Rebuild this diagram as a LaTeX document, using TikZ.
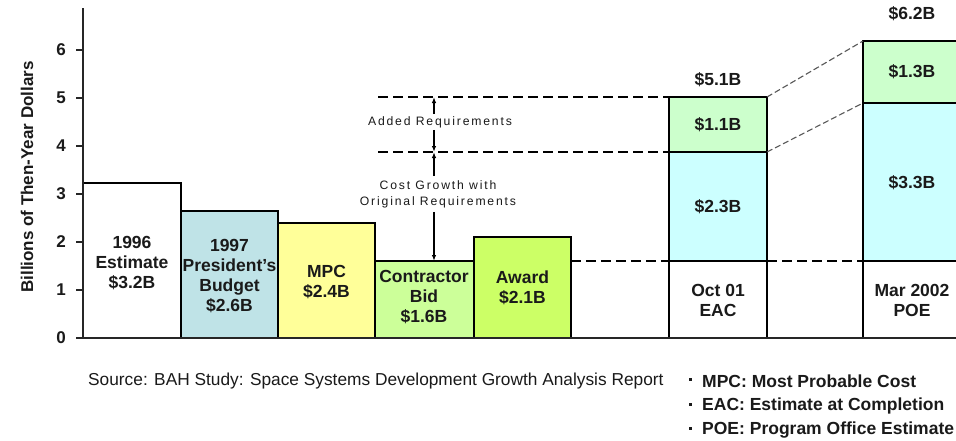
\documentclass[tikz,border=0pt]{standalone}
\usepackage{fontspec}
\setmainfont{Liberation Sans}
\newfontfamily\spacedfont[LetterSpace=15]{Liberation Sans}
\usetikzlibrary{arrows.meta}
\definecolor{cGray}{HTML}{BFE3E7}
\definecolor{cYel}{HTML}{FFFF99}
\definecolor{cBid}{HTML}{CCFF99}
\definecolor{cAward}{HTML}{CCFF66}
\definecolor{cGreen}{HTML}{CCFFCC}
\definecolor{cCyan}{HTML}{CCFFFF}
\definecolor{cText}{HTML}{1A1A1A}
\tikzset{
  barbox/.style={draw=black, line width=1.4pt, anchor=south west, inner sep=0pt, outer sep=0pt},
  lbl/.style={font=\fontsize{17.5}{20}\selectfont\bfseries, align=center, inner sep=0pt, text=cText},
  ticklbl/.style={font=\fontsize{17}{20}\selectfont\bfseries, inner sep=0pt, text=cText},
  small/.style={font=\spacedfont\fontsize{12.2}{16}\selectfont, align=center, inner sep=0pt, text=cText},
  lvl/.style={dash pattern=on 10pt off 5pt, line width=1.6pt},
  diag/.style={dash pattern=on 6pt off 3pt, line width=1.1pt, draw=black!65},
  arr/.style={-{Latex[length=6pt,width=4.5pt]}, line width=1.2pt},
  foot/.style={font=\fontsize{17.3}{20}\selectfont, inner sep=0pt, text=cText},
  bul/.style={font=\fontsize{17.5}{20}\selectfont\bfseries, inner sep=0pt, text=cText, anchor=west}
}
\begin{document}
\begin{tikzpicture}[x=1pt,y=-1pt]
\clip (0,0) rectangle (956,440);
\fill[white] (0,0) rectangle (956,440);

% bars
\node[barbox, fill=white, minimum width=98, minimum height=155] (b96) at (83,338) {};
\node[barbox, fill=cGray, minimum width=97, minimum height=127] (b97) at (181,338) {};
\node[barbox, fill=cYel, minimum width=97, minimum height=115] (mpc) at (278,338) {};
\node[barbox, fill=cBid, minimum width=99, minimum height=77] (bid) at (375,338) {};
\node[barbox, fill=cAward, minimum width=97, minimum height=101] (award) at (474,338) {};

\node[barbox, fill=white, minimum width=98, minimum height=77] (eacw) at (669,338) {};
\node[barbox, fill=cCyan, minimum width=98, minimum height=109] (eacb) at (669,261) {};
\node[barbox, fill=cGreen, minimum width=98, minimum height=55] (eacg) at (669,152) {};

\node[barbox, fill=white, minimum width=98, minimum height=77] (poew) at (863,338) {};
\node[barbox, fill=cCyan, minimum width=98, minimum height=158] (poeb) at (863,261) {};
\node[barbox, fill=cGreen, minimum width=98, minimum height=62] (poeg) at (863,103) {};

% axes
\draw[line width=1.8pt, draw=black!85] (83,8) coordinate (ytop) -- (83,338) coordinate (orig);
\draw[line width=1.8pt, draw=black!85] (76,338) -- (956,338) coordinate (xend);
\foreach \k in {0,...,6}{
  \draw[line width=1.4pt, draw=black!85] (76,338-48*\k) -- (83,338-48*\k);
  \node[ticklbl] (t\k) at (61,338-48*\k) {\k};
}
\node[font=\fontsize{17}{20}\selectfont\bfseries, text=cText, rotate=90, inner sep=0pt] (ytitle) at (27,177) {Billions of Then-Year Dollars};

% bar labels
\node[lbl] (l96) at (132,263) {1996\\Estimate\\\$3.2B};
\node[lbl] (l97) at (229.5,276.5) {1997\\President’s\\Budget\\\$2.6B};
\node[lbl] (lmpc) at (326.5,282) {MPC\\\$2.4B};
\node[lbl] (lbid) at (424,297.5) {Contractor\\Bid\\\$1.6B};
\node[lbl] (laward) at (522.5,287.5) {Award\\\$2.1B};
\node[lbl] (leac) at (718,300) {Oct 01\\EAC};
\node[lbl] (lpoe) at (912,300) {Mar 2002\\POE};
\node[lbl] (v51) at (718,80) {\$5.1B};
\node[lbl] (v11) at (718,125) {\$1.1B};
\node[lbl] (v23) at (718,207) {\$2.3B};
\node[lbl] (v62) at (912,14) {\$6.2B};
\node[lbl] (v13) at (912,72) {\$1.3B};
\node[lbl] (v33) at (912,183) {\$3.3B};

% level lines
\coordinate (s5) at (378,97);
\coordinate (s4) at (378,152);
\coordinate (a5) at (434,97);
\coordinate (a4) at (434,152);
\coordinate (a16) at (434,261);
\draw[lvl] (s5) -- (eacg.north west);
\draw[lvl] (s4) -- (eacg.south west);
\draw[lvl] (award.north east |- bid.north) -- (eacb.south west);
\draw[lvl] (eacb.south east) -- (poeb.south west);
\draw[diag] (eacg.north east) -- (poeg.north west);
\draw[diag] (eacg.south east) -- (poeg.south west);

% annotations
\node[small] (added) at (440,122) {Added Requirements};
\node[small] (growth) at (438,194) {Cost Growth with\\Original Requirements};
\draw[arr] (added.north -| a5) ++(0,-2) -- (a5);
\draw[arr] (added.south -| a4) ++(0,2) -- (a4);
\draw[arr] (growth.north -| a4) ++(0,-4) -- (a4);
\draw[arr] (growth.south -| a16) ++(0,4) -- (a16);

% footer
\node[foot, anchor=west] (src) at (88,381) {Source: BAH Study: Space Systems Development Growth Analysis Report};
\node[bul] (n1) at (702,381) {MPC: Most Probable Cost};
\node[bul] (n2) at (702,406) {EAC: Estimate at Completion};
\node[bul] (n3) at (702,430) {POE: Program Office Estimate};
\foreach \n in {n1,n2,n3}{
  \fill[cText] ([xshift=-13pt,yshift=0pt]\n.west) rectangle ++(2.5,-3.5);
}
\end{tikzpicture}
\end{document}
